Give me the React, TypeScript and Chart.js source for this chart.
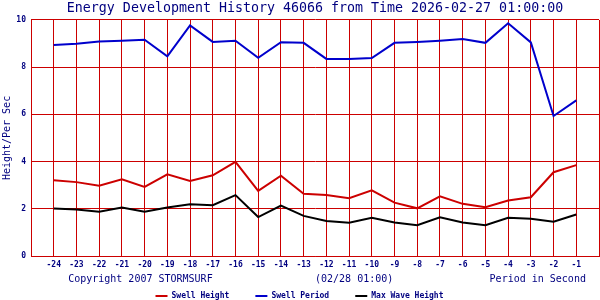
import React, { useEffect, useRef } from "react";
import { Chart, registerables } from "chart.js";

Chart.register(...registerables);

const hours = [-24, -23, -22, -21, -20, -19, -18, -17, -16, -15, -14, -13, -12, -11, -10, -9, -8, -7, -6, -5, -4, -3, -2, -1];
const swellHeight = [3.21, 3.13, 2.98, 3.25, 2.93, 3.46, 3.18, 3.42, 3.99, 2.76, 3.40, 2.64, 2.58, 2.45, 2.78, 2.26, 2.02, 2.53, 2.21, 2.07, 2.35, 2.49, 3.55, 3.85];
const swellPeriod = [8.94, 8.99, 9.09, 9.12, 9.16, 8.46, 9.77, 9.07, 9.12, 8.40, 9.06, 9.03, 8.35, 8.35, 8.39, 9.03, 9.07, 9.12, 9.19, 9.03, 9.86, 9.05, 5.93, 6.59];
const maxWaveHeight = [2.01, 1.97, 1.88, 2.05, 1.88, 2.05, 2.19, 2.15, 2.58, 1.65, 2.14, 1.70, 1.48, 1.41, 1.62, 1.42, 1.30, 1.64, 1.42, 1.30, 1.62, 1.58, 1.45, 1.76];
const seriesNames = ["Swell Height", "Swell Period", "Max Wave Height"];
const seriesColors = ["#cc0000", "#0000cc", "#000000"];
const yTicks = [0, 2, 4, 6, 8, 10];
const titleText = "Energy Development History 46066 from Time 2026-02-27 01:00:00";
const yTitle = "Height/Per Sec";
const footerLeft = "Copyright 2007 STORMSURF";
const footerMid = "(02/28 01:00)";
const footerRight = "Period in Second";

const NAVY = "#000080";
const GRID = "#cc0000";
const MONO = '"DejaVu Sans Mono", "Liberation Mono", monospace';

export default function App() {
  const ref = useRef<HTMLCanvasElement | null>(null);

  useEffect(() => {
    document.body.style.margin = "0";
    const canvas = ref.current;
    if (!canvas) return;
    const allSeries = [swellHeight, swellPeriod, maxWaveHeight];
    const xTitle =
      "    " + footerLeft + " ".repeat(17) + footerMid + " ".repeat(16) + footerRight;
    const chart = new Chart(canvas, {
      type: "line",
      data: {
        datasets: allSeries.map((vals, i) => ({
          label: seriesNames[i],
          data: vals.map((v, j) => ({ x: hours[j], y: v })),
          borderColor: seriesColors[i],
          backgroundColor: seriesColors[i],
          borderWidth: 2,
          pointRadius: 0,
          tension: 0,
          fill: false,
        })),
      },
      options: {
        animation: false,
        responsive: false,
        devicePixelRatio: 1,
        layout: { padding: { left: 0, right: 1, top: 0, bottom: -10 } },
        plugins: {
          tooltip: { enabled: false },
          title: {
            display: true,
            fullSize: false,
            text: titleText,
            color: NAVY,
            font: { family: MONO, size: 13.3, weight: "normal", lineHeight: 1.2 },
            padding: { top: 1, bottom: 3 },
          },
          legend: {
            display: true,
            position: "bottom",
            labels: {
              color: NAVY,
              font: { family: MONO, size: 8, weight: "bold" },
              boxWidth: 12,
              boxHeight: 2,
              padding: 2,
              generateLabels: (c: any) =>
                c.data.datasets.map((ds: any, i: number) => ({
                  text: i < c.data.datasets.length - 1 ? ds.label + "     " : ds.label,
                  fillStyle: ds.borderColor,
                  strokeStyle: ds.borderColor,
                  lineWidth: 0,
                  hidden: false,
                  datasetIndex: i,
                  fontColor: NAVY,
                })),
            },
          },
        },
        scales: {
          x: {
            type: "linear",
            min: -25,
            max: 0,
            afterFit: (s: any) => {
              s.height = 34;
              s.paddingRight = 1;
              s.paddingLeft = 0;
            },
            afterBuildTicks: (s: any) => {
              const t = [];
              for (let v = -25; v <= 0; v++) t.push({ value: v });
              s.ticks = t;
            },
            ticks: {
              autoSkip: false,
              maxRotation: 0,
              color: NAVY,
              padding: 4,
              font: { family: MONO, size: 8, weight: "bold" },
              callback: (v: any) => (hours.includes(Number(v)) ? String(v) : ""),
            },
            grid: { color: GRID, lineWidth: 1, drawTicks: false },
            border: { color: GRID, width: 1 },
            title: {
              display: true,
              text: xTitle,
              color: NAVY,
              font: { family: MONO, size: 10, lineHeight: 1.2 },
              padding: { top: 0, bottom: 4.5 },
            },
          },
          y: {
            type: "linear",
            min: 0,
            max: 10,
            afterFit: (s: any) => {
              s.width = 31;
            },
            afterBuildTicks: (s: any) => {
              s.ticks = yTicks.map((v) => ({ value: v }));
            },
            ticks: {
              color: NAVY,
              padding: 5,
              font: { family: MONO, size: 8, weight: "bold" },
            },
            grid: { color: GRID, lineWidth: 1, drawTicks: false },
            border: { color: GRID, width: 1 },
            title: {
              display: true,
              text: yTitle,
              color: NAVY,
              font: { family: MONO, size: 10, lineHeight: 1.2 },
              padding: { top: 1, bottom: 0 },
            },
          },
        },
      },
    } as any);
    return () => chart.destroy();
  }, []);

  return (
    <div style={{ width: 600, height: 300, background: "#ffffff" }}>
      <canvas ref={ref} width={600} height={300} style={{ display: "block", width: 600, height: 300 }} />
    </div>
  );
}
